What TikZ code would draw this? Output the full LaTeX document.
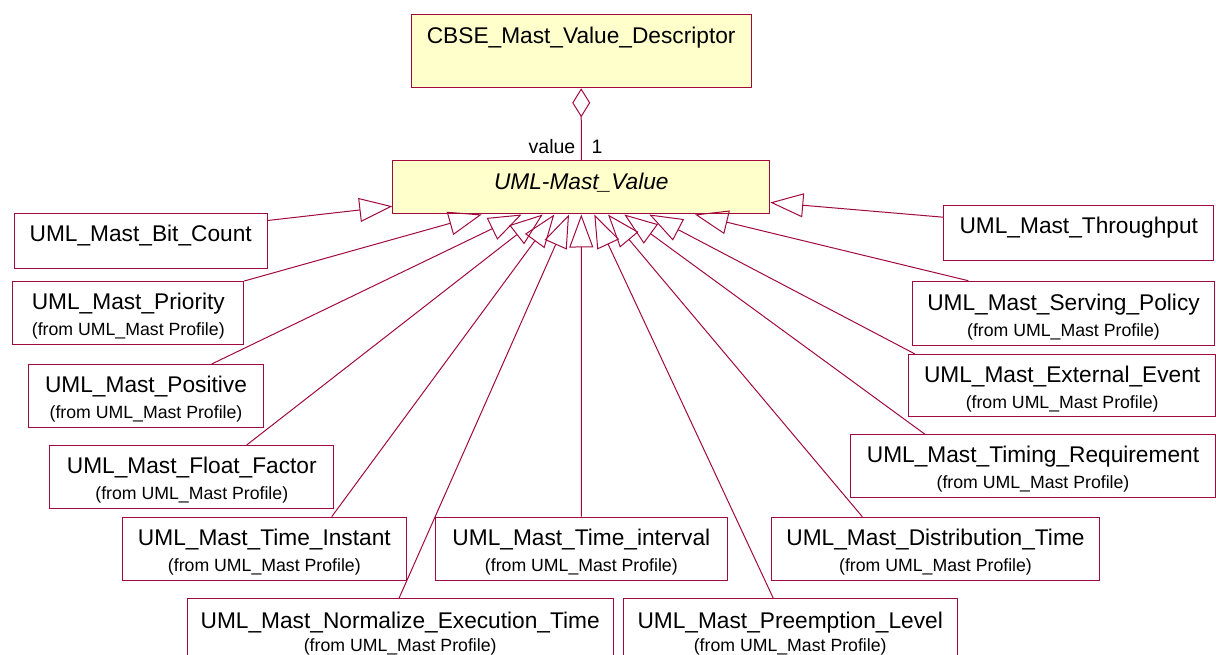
\documentclass[tikz,border=0pt]{standalone}
\usepackage{fontspec}
\setmainfont{Liberation Sans}
\usepackage{tikz}
\usetikzlibrary{arrows.meta}
\definecolor{roseline}{RGB}{160,10,60}
\definecolor{rosefill}{RGB}{255,255,204}

% second line of an imported class, with a strut that sets the first line lower
\newcommand\fromprof[1][0pt]{\rule{0pt}{23pt}\\[#1]{\fontsize{17.7}{26}\selectfont(from UML\_Mast Profile)}}

\begin{document}
\begin{tikzpicture}[x=1pt, y=-1pt,
    cls/.style={draw=roseline, line width=1pt, anchor=north west, inner sep=0pt,
                font=\fontsize{22.7}{26}\selectfont},
    boxdim/.style 2 args={minimum width=#1pt, minimum height=#2pt},
    prof/.style={cls, align=center},
    gen/.style={draw=roseline, line width=1pt, line join=miter,
                -{Triangle[open, length=33pt, width=24pt]}},
    role/.style={inner sep=0pt, font=\fontsize{19.5}{22}\selectfont}
  ]
  \useasboundingbox (0,0) rectangle (1216,655);

  % descriptor and the abstract value class
  \node[cls, fill=rosefill, boxdim={340}{73.3}, text height=16.25pt, text depth=31.3pt]
    (cbse) at (410.7,14) {CBSE\_Mast\_Value\_Descriptor};
  \node[cls, fill=rosefill, boxdim={377}{53.5}, text height=16.25pt, text depth=12pt]
    (val) at (392.3,160) {\itshape UML-Mast\_Value};

  \draw[draw=roseline, line width=1pt, line join=miter,
        {Diamond[open, length=29pt, width=18pt]}-] (cbse.south) -- (val.north);
  \node[role, anchor=base east] (rolename) at ([xshift=-5.8pt, yshift=6pt]val.north) {value};
  \node[role, anchor=base west] (rolemult) at ([xshift=10pt, yshift=6pt]val.north) {1};

  % subclasses
  \node[cls, boxdim={253}{55.6}, text height=16.25pt, text depth=15.4pt]
    (bit) at (13.7,212.7) {UML\_Mast\_Bit\_Count};
  \node[cls, boxdim={270}{55}, text height=16.25pt, text depth=15pt]
    (thr) at (943.3,205) {UML\_Mast\_Throughput};
  \node[prof, boxdim={231}{63.3}]   (pri) at (12.3,281)    {UML\_Mast\_Priority\fromprof};
  \node[prof, boxdim={302.6}{64.3}] (srv) at (911.7,280.7) {UML\_Mast\_Serving\_Policy\fromprof};
  \node[prof, boxdim={235.6}{62.7}] (pos) at (27.7,364)    {UML\_Mast\_Positive\fromprof};
  \node[prof, boxdim={306.7}{62}]   (ext) at (908.3,354)   {UML\_Mast\_External\_Event\fromprof};
  \node[prof, boxdim={284}{62.7}]   (flo) at (49.3,445)    {UML\_Mast\_Float\_Factor\fromprof};
  \node[prof, boxdim={365}{63}]     (tim) at (850,434.3)   {UML\_Mast\_Timing\_Requirement\fromprof};
  \node[prof, boxdim={284.3}{63.3}] (ins) at (121.7,516.7) {UML\_Mast\_Time\_Instant\fromprof};
  \node[prof, boxdim={291.7}{63.3}] (int) at (435,516.7)   {UML\_Mast\_Time\_interval\fromprof};
  \node[prof, boxdim={328.6}{63.3}] (dis) at (770.7,516.7) {UML\_Mast\_Distribution\_Time\fromprof};
  \node[prof, boxdim={426}{63.3}]   (nor) at (186.7,598.3) {UML\_Mast\_Normalize\_Execution\_Time\fromprof[-3pt]};
  \node[prof, boxdim={334}{63.3}]   (pre) at (622.7,598.3) {UML\_Mast\_Preemption\_Level\fromprof[-3pt]};

  % generalizations
  \draw[gen] ([yshift=20.5pt]bit.east)       -- ([yshift=-19pt]val.west);
  \draw[gen] (pri.north east)                -- ([xshift=89.4pt]val.south west);
  \draw[gen] ([xshift=184pt]pos.north west)  -- ([xshift=129.4pt]val.south west);
  \draw[gen] ([xshift=197.4pt]flo.north west) -- ([xshift=150.4pt]val.south west);
  \draw[gen] ([xshift=210pt]ins.north west)  -- ([xshift=162pt]val.south west);
  \draw[gen] ([xshift=212.3pt]nor.north west) -- ([xshift=176.7pt]val.south west);
  \draw[gen] (int.north)                     -- (val.south);
  \draw[gen] ([xshift=150.6pt]pre.north west) -- ([xshift=202pt]val.south west);
  \draw[gen] ([xshift=91.6pt]dis.north west) -- ([xshift=215.7pt]val.south west);
  \draw[gen] ([xshift=75pt]tim.north west)   -- ([xshift=232pt]val.south west);
  \draw[gen] ([xshift=6.7pt]ext.north west)  -- ([xshift=257pt]val.south west);
  \draw[gen] ([xshift=56.6pt]srv.north west) -- ([xshift=302.7pt]val.south west);
  \draw[gen] ([yshift=15.8pt]thr.west)       -- ([yshift=-15.25pt]val.east);
\end{tikzpicture}
\end{document}
